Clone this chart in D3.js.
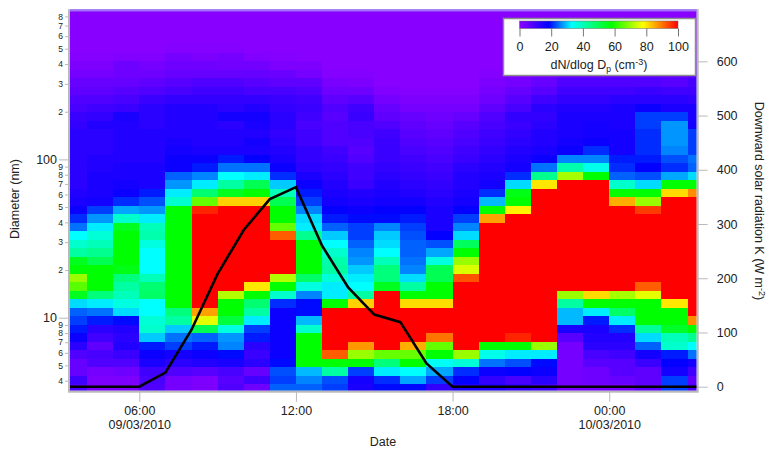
<!DOCTYPE html>
<html>
<head>
<meta charset="utf-8">
<title>Particle size distribution</title>
<script src="https://cdnjs.cloudflare.com/ajax/libs/d3/7.8.5/d3.min.js"></script>
<style>
	html, body { margin: 0; padding: 0; background: #fff; }
	svg { display: block; }
	text { font-family: "Liberation Sans", Arial, sans-serif; fill: #222; }
</style>
</head>
<body>
<svg id="chart" width="771" height="450"></svg>
<script>
// column start hours, 09/03/2010 03:00 and on (last entry only closes the last column)
var hours = [3,4,5,6,7,8,9,10,11,12,13,14,15,16,17,18,19,20,21,22,23,24,25,26,27,28];

// diameter bin edges in nm, bottom to top
var binEdges = [3.35,3.79,4.29,4.85,5.49,6.22,7.03,7.96,9.01,10.19,11.53,13.05,14.77,16.71,18.92,21.40,24.22,27.41,31.02,35.09,39.71,44.94,50.85,57.54,65.12,73.69,83.39,94.37,106.8,120.8,136.8,154.8,175.1,198.2,224.3,253.8,287.2,325.0,367.8,416.1,471.0,532.9,603.1,682.3,772.1,873.8];

// dN/dlogDp per hour, one list per column, bottom bin first
var h03 = [8,10,5,5,8,13,17,20,22,24, 31,55,65,70,58,55,42,38,33,25, 21,17,15,14,13,13,13,13,13,13, 13,12,11,9,8,6,5,3,2,1, .5,.5,.5,.5,.5];
var h04 = [2,2,3,8,9,6,10,13,20,25, 32,46,58,58,58,50,44,40,37,32, 27,22,16,15,15,15,14,14,13,13, 13,14,12,10,8,6,5,3,2,1, .5,.5,.5,.5,.5];
var h05 = [2,2,4,8,11,14,13,14,19,31, 36,40,42,46,56,58,58,58,58,55, 38,28,21,17,16,15,15,14,14,14, 14,14,15,11,9,7,5,4,4,1.5, .5,.5,.5,.5,.5];
var h06 = [8,9,10,15,17,20,30,38,37,33, 33,48,47,40,33,33,33,36,41,40, 32,27,23,20,15,15,15,14,14,14, 14,13,13,13,11,8,6,4,3,1.5, .5,.5,.5,.5,.5];
var h07 = [3,3,8,13,16,22,25,30,42,46, 58,58,58,58,58,58,58,58,58,58, 58,58,38,32,27,24,17,17,16,15, 14,14,14,14,12,9,7,5,4,3, 1,.5,.5,.5,.5];
var h08 = [2,2,7,14,17,20,24,50,76,86, 100,100,100,100,100,100,100,100,100,100, 100,97,66,47,32,26,20,17,15,14, 14,14,14,14,12,10,8,5,4,2, 1,.5,.5,.5,.5];
var h09 = [8,7,9,15,19,26,27,36,52,58, 58,72,100,100,100,100,100,100,100,100, 100,100,82,55,42,33,25,20,15,14, 14,13,16,13,12,10,8,5,3.5,3, 1,.5,.5,.5,.5];
var h10 = [4,10,5,13,11,13,20,22,32,42, 47,58,80,100,100,100,100,100,100,100, 100,100,82,58,50,32,25,18,15,16, 14,15,16,14,12,9,7,5,3.5,1.5, .5,.5,.5,.5,.5];
var h11 = [24,22,23,19,17,17,17,17,17,17, 21,38,58,72,100,100,100,100,92,66, 58,58,50,40,30,21,17,15,14,13, 12,13,13,12,11,9,6,4.5,2,1, .5,.5,.5,.5,.5];
var h12 = [24,26,29,58,58,58,58,38,29,19, 19,26,36,48,58,58,58,58,44,32, 31,26,22,20,17,15,13,12,12,10, 10,9,10,11,10,8,6,3,2,.5, .5,.5,.5,.5,.5];
var h13 = [22,23,42,58,92,100,100,100,100,100, 58,32,32,37,42,41,38,33,30,24, 20,18,16,15,14,13,12,11,10,8, 8,8,7,8,6,4,2.5,1,.5,.5, .5,.5,.5,.5,.5];
var h14 = [15,16,22,58,70,87,100,100,100,100, 82,42,33,32,30,27,26,24,22,22, 19,17,15,14,11,10,10,8,7,8, 9,9,11,10,7,4,2,1,.5,.5, .5,.5,.5,.5,.5];
var h15 = [19,21,32,46,66,100,100,100,100,100, 100,100,55,46,46,40,33,31,30,26, 19,18,16,15,14,13,12,11,11,11, 10,8,6,5,3,1.5,.5,.5,.5,.5, .5,.5,.5,.5,.5];
var h16 = [19,28,33,58,66,85,100,100,100,100, 81,58,42,31,26,25,24,24,23,22, 20,18,16,14,13,12,11,10,9,8, 7,6,5,3,2,1,.5,.5,.5,.5, .5,.5,.5,.5,.5];
var h17 = [12,22,28,34,58,66,90,100,100,100, 81,58,58,50,50,36,28,23,18,15, 15,15,14,13,12,11,10,9,8,7, 6,5,4,3,2,1,.5,.5,.5,.5, .5,.5,.5,.5,.5];
var h18 = [15,18,21,37,70,100,100,100,100,100, 100,100,100,93,75,70,58,49,31,26, 22,18,16,15,14,14,13,11,10,9, 8,7,5,3,2,1,.5,.5,.5,.5, .5,.5,.5,.5,.5];
var h19 = [14,12,17,25,35,58,100,100,100,100, 100,100,100,100,100,100,100,100,100,100, 86,58,29,21,16,15,14,13,12,11, 10,9,8,6,4,3,2,1,.5,.5, .5,.5,.5,.5,.5];
var h20 = [12,9,18,23,32,58,97,100,100,100, 100,100,100,100,100,100,100,100,100,100, 100,79,58,56,31,21,16,15,14,13, 12,11,12,9,7,5,3,2,1,.5, .5,.5,.5,.5,.5];
var h21 = [10,13,17,19,32,70,100,100,100,100, 100,100,100,100,100,100,100,100,100,100, 100,100,100,100,80,44,25,17,15,14, 14,13,12,13,10,7,5,3,2,1, .5,.5,.5,.5,.5];
var h22 = [3,3,3,3,3,3,7,15,29,29, 42,70,100,100,100,100,100,100,100,100, 100,100,100,100,100,71,41,26,17,16, 15,15,15,14,12,10,8,5,3,1.5, .5,.5,.5,.5,.5];
var h23 = [3,4,4,7,9,13,14,15,20,32, 58,81,100,100,100,100,100,100,100,100, 100,100,100,100,100,58,35,26,21,17, 16,16,15,14,12,10,8,5,3,1.5, .5,.5,.5,.5,.5];
var h24 = [3,5,7,7,10,13,14,21,32,48, 58,71,100,100,100,100,100,100,100,100, 100,100,85,58,38,24,21,20,16,16, 16,15,15,15,13,10,8,6,4,2, 1,.5,.5,.5,.5];
var h25 = [6,6,6,11,16,24,31,43,58,58, 58,76,92,100,100,100,100,100,100,100, 100,95,70,58,31,23,18,20,21,21, 21,22,22,17,13,11,8,6,4,3, 2,1,.5,.5,.5];
var h26 = [22,22,16,18,20,38,40,54,58,58, 80,100,100,100,100,100,100,100,100,100, 100,100,100,81,58,28,21,23,26,27, 27,27,22,15,13,10,7,5,3,2, 1,.5,.5,.5,.5];
var h27 = [8,6,10,16,25,33,44,58,88,100, 100,100,100,100,100,100,100,100,100,100, 100,100,100,88,58,31,24,25,22,22, 22,16,15,15,12,10,9,7,5,3, 2,1,.5,.5,.5];
var columns = [h03,h04,h05,h06,h07,h08,h09,h10,h11,h12,h13,h14,h15,h16,h17,h18,h19,h20,h21,h22,h23,h24,h25,h26,h27];

// downward solar radiation, W m-2, on the hour (same hours list)
var solar = [0,0,0,0,26,105,208,289,346,368,260,183,133,119,43,0,0,0,0,0,0,0,0,0,0,0];

var diameterTicks = [4,5,6,7,8,9,10,20,30,40,50,60,70,80,90,100,200,300,400,500,600,700,800];
var diameterLabels = {4:"4",5:"5",6:"6",7:"7",8:"8",9:"9",10:"10",20:"2",30:"3",40:"4",50:"5",60:"6",70:"7",80:"8",90:"9",100:"100",200:"2",300:"3",400:"4",500:"5",600:"6",700:"7",800:"8"};
var solarTicks = [0,100,200,300,400,500,600];
var dateTicks = [6,12,18,24];
var dateLabels = ["09/03/2010","","","10/03/2010"];
var colourStops = [0,18.5,33,58,78,100];
var colourNames = ["#8c00ff","#0000ff","#00ffff","#00ff00","#ffff00","#ff0000"];
var legendTicks = [0,20,40,60,80,100];

function hourDate(h){
	return new Date(Date.UTC(2010,2,9,0,0,h*3600));
}

function draw(){
	var svg = d3.select("#chart");
	var left = 70, right = 696.7, top = 10.7, bottom = 390.7;
	var grey = "#b9b9b9";

	var x = d3.scaleUtc().domain([hourDate(3.346),hourDate(27.35)]).range([left,right]);
	var y = d3.scaleLog().domain([3.46,869]).range([bottom,top]);
	var y2 = d3.scaleLinear().domain([-7.4,693.4]).range([bottom,top]);
	var colour = d3.scaleLinear().domain(colourStops).range(colourNames).clamp(true);

	svg.append("defs").append("clipPath").attr("id","plot")
		.append("rect")
		.attr("x",left).attr("y",top)
		.attr("width",right-left).attr("height",bottom-top);

	//the image plot, one g per hour
	var cols = svg.append("g").attr("clip-path","url(#plot)")
		.selectAll("g").data(columns).enter().append("g");

	cols.each(function(col,i){
		d3.select(this).selectAll("rect").data(col).enter().append("rect")
			.attr("x",x(hourDate(hours[i])))
			.attr("width",x(hourDate(hours[i+1]))-x(hourDate(hours[i])))
			.attr("y",function(d,j){return y(binEdges[j+1]);})
			.attr("height",function(d,j){return y(binEdges[j])-y(binEdges[j+1]);})
			.attr("shape-rendering","crispEdges")
			.style("fill",function(d){return colour(d);});
	});

	var line = d3.line()
		.x(function(d,i){return x(hourDate(hours[i]));})
		.y(function(d){return y2(d);});

	svg.append("path").datum(solar)
		.attr("clip-path","url(#plot)")
		.attr("d",line)
		.attr("fill","none")
		.attr("stroke","#000")
		.attr("stroke-width",2.6)
		.attr("stroke-linejoin","miter");

	// axes
	var xAxis = svg.append("g").attr("transform","translate(0,"+(bottom+1)+")")
		.call(d3.axisBottom(x)
			.tickValues(dateTicks.map(hourDate))
			.tickFormat(d3.utcFormat("%H:%M"))
			.tickSize(10).tickPadding(4.5));

	xAxis.selectAll(".tick text").attr("font-size",12.5);
	xAxis.selectAll(".tick").append("text")
		.attr("y",28.5).attr("dy","0.71em")
		.attr("text-anchor","middle")
		.attr("font-size",12.5)
		.text(function(d,i){return dateLabels[i];});

	var yAxis = svg.append("g").attr("transform","translate("+(left-1)+",0)")
		.call(d3.axisLeft(y)
			.tickValues(diameterTicks)
			.tickFormat(function(d){return diameterLabels[d];})
			.tickSize(4).tickPadding(2));

	yAxis.selectAll(".tick text").attr("font-size",8.5);
	// 10 and 100 get long ticks and bigger numbers
	yAxis.selectAll(".tick").filter(function(d){return d==10 || d==100;})
		.each(function(){
			d3.select(this).select("line").attr("x2",-10);
			d3.select(this).select("text").attr("x",-12).attr("font-size",12.5);
		});

	var y2Axis = svg.append("g").attr("transform","translate("+(right+1)+",0)")
		.call(d3.axisRight(y2).tickValues(solarTicks).tickSize(10).tickPadding(9));

	y2Axis.selectAll(".tick text").attr("font-size",12.5);

	[xAxis,yAxis,y2Axis].forEach(function(a){
		a.selectAll(".domain").remove();
		a.selectAll(".tick line").attr("stroke",grey).attr("stroke-width",1);
	});

	// frame
	svg.append("rect")
		.attr("x",left-1).attr("y",top-0.5)
		.attr("width",right-left+2).attr("height",bottom-top+1.5)
		.attr("fill","none").attr("stroke",grey).attr("stroke-width",2);
	svg.append("line")
		.attr("x1",left).attr("x2",right).attr("y1",top-0.5).attr("y2",top-0.5)
		.attr("stroke","#a070ff").attr("stroke-width",2);

	// axis titles
	svg.append("text")
		.attr("transform","translate(19,199) rotate(-90)")
		.attr("text-anchor","middle").attr("font-size",12.5)
		.text("Diameter (nm)");

	svg.append("text")
		.attr("x",383).attr("y",446)
		.attr("text-anchor","middle").attr("font-size",12.5)
		.text("Date");

	var rightTitle = svg.append("text")
		.attr("transform","translate(755,201) rotate(90)")
		.attr("text-anchor","middle").attr("font-size",12.5);
	rightTitle.append("tspan").text("Downward solar radiation K (W m");
	rightTitle.append("tspan").attr("dy",-4).attr("font-size",9).text("-2");
	rightTitle.append("tspan").attr("dy",4).text(")");

	// colour legend
	var legend = svg.append("g");
	legend.append("rect")
		.attr("x",503.5).attr("y",18.5).attr("width",192).attr("height",57)
		.attr("fill","#fff").attr("stroke","#8c8c8c").attr("stroke-width",1.5);

	var legendX = d3.scaleLinear().domain([0,100]).range([519.5,678]);

	var grad = svg.select("defs").append("linearGradient").attr("id","ramp");
	grad.selectAll("stop").data(colourStops).enter().append("stop")
		.attr("offset",function(d){return d+"%";})
		.attr("stop-color",function(d,i){return colourNames[i];});

	legend.append("rect")
		.attr("x",legendX(0)).attr("y",21)
		.attr("width",legendX(100)-legendX(0)).attr("height",7.5)
		.attr("fill","url(#ramp)")
		.attr("stroke","#666").attr("stroke-width",0.5);

	var legendAxis = legend.append("g").attr("transform","translate(0,28.5)")
		.call(d3.axisBottom(legendX).tickValues(legendTicks).tickFormat(d3.format("d")).tickSize(8).tickPadding(6));

	legendAxis.selectAll(".domain").remove();
	legendAxis.selectAll(".tick line").attr("stroke","#777");
	legendAxis.selectAll(".tick text").attr("font-size",12.5);

	var legendTitle = legend.append("text")
		.attr("x",599).attr("y",69)
		.attr("text-anchor","middle").attr("font-size",12.5);
	legendTitle.append("tspan").text("dN/dlog D");
	legendTitle.append("tspan").attr("dy",3).attr("font-size",8.5).text("p");
	legendTitle.append("tspan").attr("dy",-3).text(" (cm");
	legendTitle.append("tspan").attr("dy",-4).attr("font-size",9).text("-3");
	legendTitle.append("tspan").attr("dy",4).text(")");
}

window.addEventListener('DOMContentLoaded', draw);
</script>
</body>
</html>
